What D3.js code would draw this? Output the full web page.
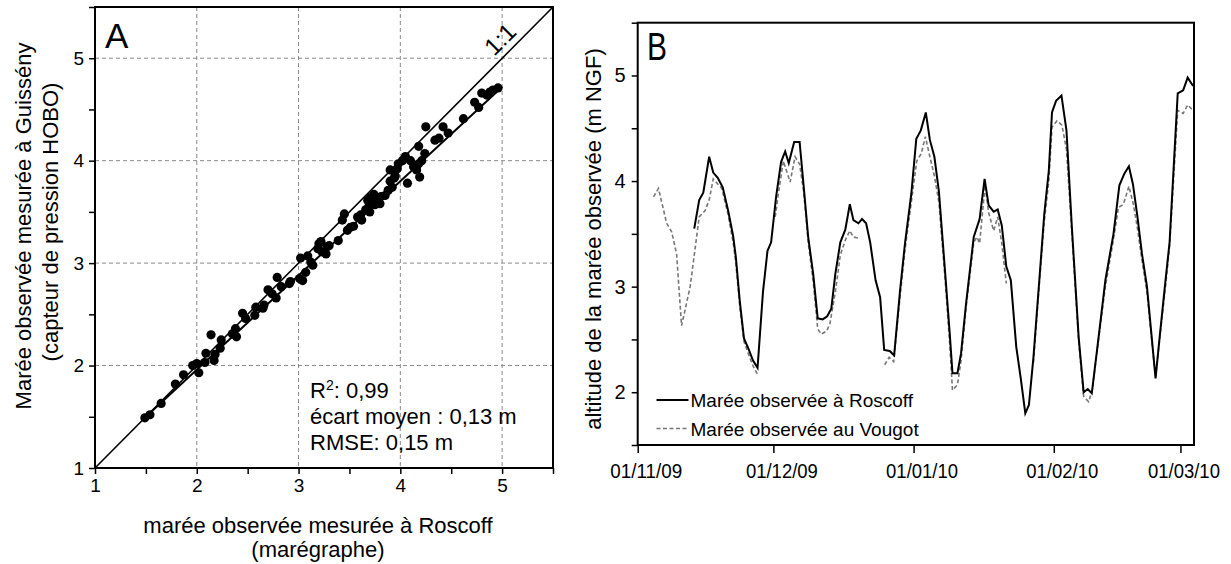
<!DOCTYPE html>
<html><head><meta charset="utf-8">
<script src="https://cdn.jsdelivr.net/npm/d3@7"></script>
<style>body{margin:0;background:#fff} svg{display:block}</style>
</head><body>
<svg id="c" width="1231" height="564"></svg>
<script>
// ---------- Panel A data: Roscoff (x) vs Guissény (y), metres ----------
const ptsX = [1.49,1.54,1.65,1.79,1.87,1.96,2.00,2.02,2.08,2.09,2.14,2.17,2.18,2.23,2.24,2.35,2.39,2.38,2.45,2.48,2.57,2.58,2.65,2.66,2.70,2.74,2.78,2.79,2.83,2.91,2.92,3.01,3.04,3.07,3.02,3.09,3.12,3.14,3.19,3.20,3.23,3.27,3.28,3.22,3.30,3.39,3.43,3.45,3.48,3.51,3.54,3.58,3.61,3.62,3.66,3.69,3.68,3.71,3.74,3.72,3.75,3.78,3.80,3.81,3.70,3.76,3.85,3.88,3.92,3.90,3.94,3.95,3.90,3.97,3.98,4.02,4.05,4.07,4.10,4.13,4.16,4.18,4.19,4.18,4.21,4.24,4.25,4.34,4.38,4.42,4.47,4.62,4.73,4.77,4.80,4.85,4.88,4.91,4.96];
const ptsY = [1.49,1.52,1.63,1.82,1.91,2.00,2.02,1.93,2.03,2.12,2.30,2.05,2.11,2.17,2.25,2.31,2.28,2.36,2.51,2.46,2.49,2.57,2.56,2.59,2.74,2.70,2.66,2.86,2.77,2.80,2.82,2.85,2.83,2.91,3.05,3.07,3.01,2.98,3.14,3.19,3.11,3.09,3.16,3.21,3.17,3.22,3.42,3.48,3.32,3.35,3.36,3.45,3.47,3.42,3.52,3.55,3.61,3.64,3.67,3.60,3.57,3.62,3.58,3.65,3.50,3.60,3.66,3.71,3.74,3.80,3.83,3.85,3.91,3.92,3.97,4.00,4.04,3.78,4.00,3.94,3.91,3.97,3.84,4.14,4.00,4.07,4.33,4.20,4.22,4.33,4.27,4.41,4.57,4.52,4.66,4.64,4.67,4.69,4.71];
const fitX = [1.5, 5.0];            // regression line ends (Roscoff)
const fitY = [1.50, 4.72];          // regression line ends (Guissény)
const axisTicksA = [1,2,3,4,5];
const statsLines = ["0,99", "écart moyen : 0,13 m", "RMSE: 0,15 m"];

// ---------- Panel B data: days since 01/11/09, altitude (m NGF) ----------
const roscoffDays = [12.5,13.6,14.5,15.8,16.7,17.7,18.8,20.0,21.1,21.7,22.6,23.5,24.5,25.5,26.5,27.7,28.7,29.5,30.6,31.7,32.6,33.4,34.6,35.8,36.7,37.7,38.8,39.8,40.9,41.9,42.8,43.7,44.8,45.9,46.9,47.7,48.8,49.6,50.5,51.4,52.6,53.6,54.5,55.7,56.7,58.0,59.1,60.5,61.6,62.6,63.7,64.6,65.6,66.6,68.0,69.0,69.6,70.7,71.5,72.6,74.3,75.6,76.7,77.6,78.7,79.6,80.5,81.5,82.5,83.7,84.7,85.7,86.5,87.5,88.9,89.9,90.9,91.6,92.5,93.7,94.8,96.0,97.5,98.6,99.5,100.4,101.9,103.4,105.2,106.5,107.6,108.6,109.5,110.5,111.5,112.6,113.5,114.5,115.4,116.7,117.6,119.4,120.6,121.6,122.8];
const roscoffVals = [3.55,3.82,3.89,4.23,4.08,4.03,3.94,3.72,3.48,3.28,2.85,2.51,2.41,2.30,2.23,2.95,3.34,3.42,3.85,4.18,4.28,4.17,4.37,4.37,3.95,3.47,3.12,2.70,2.69,2.72,2.79,3.12,3.42,3.54,3.78,3.63,3.60,3.64,3.60,3.42,3.06,2.90,2.40,2.39,2.35,2.96,3.41,3.88,4.40,4.48,4.65,4.39,4.23,3.90,3.12,2.55,2.18,2.18,2.37,2.84,3.47,3.64,4.02,3.77,3.71,3.73,3.58,3.19,3.06,2.43,2.13,1.80,1.88,2.33,3.12,3.69,4.10,4.65,4.76,4.81,4.48,3.56,2.52,2.00,2.03,1.99,2.52,3.06,3.50,3.96,4.07,4.14,3.97,3.66,3.31,3.00,2.59,2.13,2.52,3.06,3.42,4.83,4.86,4.98,4.90];
const vougotDays = [3.5,4.6,6.4,7.5,8.6,9.7,11.6,13.6,14.9,15.8,16.7,18.6,20.0,21.1,21.7,22.6,23.5,24.5,25.5,26.6,28.5,30.4,31.1,32.2,33.7,34.8,35.8,36.7,37.7,38.8,39.8,40.6,41.8,42.5,43.7,44.8,45.9,46.9,47.7,48.8,51.5,54.6,55.6,56.6,58.0,59.1,60.5,61.7,62.7,63.6,64.6,65.6,66.6,68.0,69.0,69.6,70.7,71.5,72.6,74.3,75.0,75.6,76.8,77.6,78.7,79.6,80.5,81.5,84.5,87.5,88.9,89.9,90.9,91.6,92.7,93.8,94.8,96.0,97.5,98.6,99.7,100.5,101.9,103.4,105.2,106.3,107.4,108.6,109.6,110.5,111.5,112.6,113.5,114.5,115.4,116.7,117.6,119.4,120.6,121.6,122.8];
const vougotVals = [3.85,3.93,3.60,3.52,3.31,2.63,3.00,3.66,3.72,3.82,4.02,3.93,3.68,3.42,3.22,2.80,2.48,2.36,2.25,2.16,null,3.66,3.88,4.19,3.99,4.23,4.16,3.90,3.42,3.05,2.60,2.55,2.58,2.65,2.95,3.30,3.44,3.53,3.47,3.46,null,2.26,2.33,2.29,2.90,3.35,3.80,4.19,4.26,4.42,4.23,4.05,3.80,3.05,2.45,2.02,2.07,2.30,2.80,3.42,3.47,3.41,3.96,3.70,3.53,3.66,3.41,3.03,null,2.28,3.08,3.62,4.00,4.51,4.57,4.53,4.30,3.50,2.48,1.96,1.91,2.02,2.50,3.00,3.45,3.75,3.78,3.95,3.78,3.55,3.25,2.95,2.55,2.15,2.50,3.00,3.38,4.67,4.64,4.72,4.67];
const monthTicks = ["2009-11-01","2009-12-01","2010-01-01","2010-02-01","2010-03-01"];
const axisTicksB = [2,3,4,5];
const legendLabels = ["Marée observée à Roscoff", "Marée observée au Vougot"];

// ---------- drawing ----------
const svg = d3.select("#c");
svg.append("rect").attr("width",1231).attr("height",564).attr("fill","#fff");
const FONT = "'Liberation Sans', Arial, sans-serif";

// ===== Panel A =====
const xA = d3.scaleLinear().domain([1,5.5]).range([95,553]);
const yA = d3.scaleLinear().domain([1,5.5]).range([468,7]);
const gA = svg.append("g");

// grid
gA.selectAll(".gx").data(axisTicksA.slice(1)).join("line")
  .attr("x1",d=>xA(d)).attr("x2",d=>xA(d)).attr("y1",yA(5.5)).attr("y2",yA(1))
  .attr("stroke","#8a8a8a").attr("stroke-width",1).attr("stroke-dasharray","4,3");
gA.selectAll(".gy").data(axisTicksA.slice(1)).join("line")
  .attr("y1",d=>yA(d)).attr("y2",d=>yA(d)).attr("x1",xA(1)).attr("x2",xA(5.5))
  .attr("stroke","#8a8a8a").attr("stroke-width",1).attr("stroke-dasharray","4,3");

// axes
const halfA = d3.range(1,5.51,0.5);
const axA_x = d3.axisBottom(xA).tickValues(halfA).tickSize(6).tickPadding(5)
  .tickFormat(d => Number.isInteger(d) ? String(d) : "");
const axA_y = d3.axisLeft(yA).tickValues(halfA).tickSize(6).tickPadding(5)
  .tickFormat(d => Number.isInteger(d) ? String(d) : "");
const gAx = gA.append("g").attr("transform",`translate(0,${yA(1)})`).call(axA_x);
const gAy = gA.append("g").attr("transform",`translate(${xA(1)},0)`).call(axA_y);
[gAx,gAy].forEach(g=>{
  g.select(".domain").remove();
  g.selectAll("line").attr("stroke","#000").attr("stroke-width",1.5);
  g.selectAll("text").attr("font-family",FONT).attr("font-size",19).attr("fill","#000");
});

// 1:1 line and regression line
gA.append("line").attr("x1",xA(1)).attr("y1",yA(1)).attr("x2",xA(5.5)).attr("y2",yA(5.5))
  .attr("stroke","#000").attr("stroke-width",1.6);
gA.append("line").attr("x1",xA(fitX[0])).attr("y1",yA(fitY[0])).attr("x2",xA(fitX[1])).attr("y2",yA(fitY[1]))
  .attr("stroke","#000").attr("stroke-width",2);

// points
gA.selectAll(".pt").data(ptsX.map((x,i)=>[x,ptsY[i]])).join("circle")
  .attr("cx",d=>xA(d[0])).attr("cy",d=>yA(d[1])).attr("r",4.6).attr("fill","#000");

// frame
gA.append("rect").attr("x",xA(1)).attr("y",yA(5.5)).attr("width",xA(5.5)-xA(1)).attr("height",yA(1)-yA(5.5))
  .attr("fill","none").attr("stroke","#000").attr("stroke-width",2);

// labels
gA.append("text").attr("x",105).attr("y",48).attr("font-family",FONT).attr("font-size",35).text("A");
gA.append("text").attr("transform","translate(506,45) rotate(-45)")
  .attr("text-anchor","middle").attr("font-family",FONT).attr("font-size",24).text("1:1");
const st = gA.append("text").attr("font-family",FONT).attr("font-size",22).attr("fill","#000");
const t1 = st.append("tspan").attr("x",310).attr("y",398);
t1.append("tspan").text("R");
t1.append("tspan").attr("font-size",14).attr("dy",-8).text("2");
t1.append("tspan").attr("dy",8).text(": " + statsLines[0]);
st.append("tspan").attr("x",310).attr("y",424).text(statsLines[1]);
st.append("tspan").attr("x",310).attr("y",450).text(statsLines[2]);

// axis titles
gA.append("text").attr("x",318).attr("y",533).attr("text-anchor","middle")
  .attr("font-family",FONT).attr("font-size",22).text("marée observée mesurée à Roscoff");
gA.append("text").attr("x",318).attr("y",557).attr("text-anchor","middle")
  .attr("font-family",FONT).attr("font-size",22).text("(marégraphe)");
gA.append("text").attr("transform","translate(31,226) rotate(-90)").attr("text-anchor","middle")
  .attr("font-family",FONT).attr("font-size",22).text("Marée observée mesurée à Guissény");
gA.append("text").attr("transform","translate(58,222) rotate(-90)").attr("text-anchor","middle")
  .attr("font-family",FONT).attr("font-size",22).text("(capteur de pression HOBO)");

// ===== Panel B =====
const base = new Date(2009,10,1);
const dayToDate = d => new Date(base.getTime() + d*864e5);
const xB = d3.scaleTime().domain([new Date(2009,10,1), new Date(2010,2,4)]).range([637.7,1194]);
const yB = d3.scaleLinear().domain([1.5,5.5]).range([445,22.7]);
const gB = svg.append("g");

const axB_y = d3.axisLeft(yB).tickValues(d3.range(1.5,5.51,0.5)).tickSize(6).tickPadding(6)
  .tickFormat(d => axisTicksB.includes(d) ? String(d) : "");
const gBy = gB.append("g").attr("transform",`translate(${xB.range()[0]},0)`).call(axB_y);
const parse = d3.timeParse("%Y-%m-%d");
const axB_x = d3.axisBottom(xB).tickValues(monthTicks.map(parse)).tickSize(8).tickPadding(10)
  .tickFormat(d3.timeFormat("%d/%m/%y"));
const gBx = gB.append("g").attr("transform",`translate(0,${yB.range()[0]})`).call(axB_x);
[gBx,gBy].forEach(g=>{
  g.select(".domain").remove();
  g.selectAll("line").attr("stroke","#000").attr("stroke-width",1.5);
  g.selectAll("text").attr("fill","#000");
});
gBy.selectAll("text").attr("font-family",FONT).attr("font-size",20);
gBx.selectAll("text").attr("font-family",FONT).attr("font-size",21)
  .attr("dx",(d,i,n)=> i===n.length-1 ? 3 : 8)
  .attr("textLength",72).attr("lengthAdjust","spacingAndGlyphs");

const lineB = d3.line().defined(d=>d[1]!==null).x(d=>xB(dayToDate(d[0]))).y(d=>yB(d[1]));
gB.append("path").datum(vougotDays.map((d,i)=>[d,vougotVals[i]])).attr("d",lineB)
  .attr("fill","none").attr("stroke","#777").attr("stroke-width",1.6).attr("stroke-dasharray","4,2.5");
gB.append("path").datum(roscoffDays.map((d,i)=>[d,roscoffVals[i]])).attr("d",lineB)
  .attr("fill","none").attr("stroke","#000").attr("stroke-width",2);

gB.append("rect").attr("x",xB.range()[0]).attr("y",yB.range()[1]).attr("width",xB.range()[1]-xB.range()[0])
  .attr("height",yB.range()[0]-yB.range()[1]).attr("fill","none").attr("stroke","#000").attr("stroke-width",2);

gB.append("text").attr("x",647).attr("y",60).attr("font-family",FONT).attr("font-size",39)
  .attr("textLength",20).attr("lengthAdjust","spacingAndGlyphs").text("B");
gB.append("text").attr("transform","translate(601,239) rotate(-90)").attr("text-anchor","middle")
  .attr("font-family",FONT).attr("font-size",22).text("altitude de la marée observée (m NGF)");

// legend
const leg = gB.append("g");
legendLabels.forEach((lab,i)=>{
  const y = 400 + i*28.5;
  leg.append("line").attr("x1",656.5).attr("x2",688.5).attr("y1",y).attr("y2",y)
    .attr("stroke", i===0 ? "#000" : "#777").attr("stroke-width", i===0 ? 2 : 1.6)
    .attr("stroke-dasharray", i===0 ? null : "4,2.5");
  leg.append("text").attr("x",690.5).attr("y",y+7).attr("font-family",FONT).attr("font-size",19).text(lab);
});
</script>
</body></html>
